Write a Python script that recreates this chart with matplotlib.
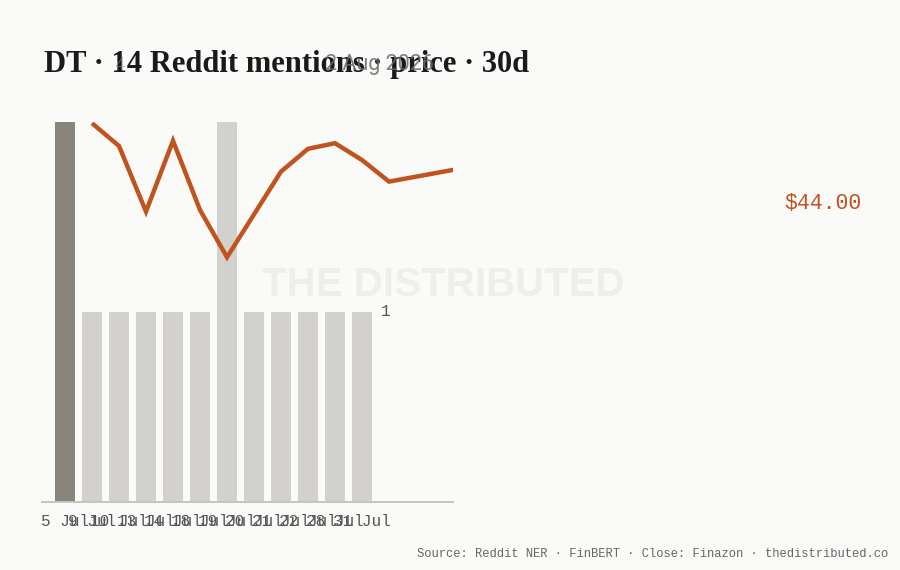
import matplotlib
matplotlib.use("Agg")
import matplotlib.pyplot as plt
import matplotlib.transforms as mtransforms

# mentions per day (bars)
days = ["5 Jul", "9 Jul", "10 Jul", "13 Jul", "14 Jul", "18 Jul",
        "19 Jul", "20 Jul", "21 Jul", "22 Jul", "28 Jul", "31 Jul"]
mentions = [2, 1, 1, 1, 1, 1, 2, 1, 1, 1, 1, 1]
highlight = [True] + [False] * 11

# closing price (line), positions on the same day axis
price_pos = [1, 2, 3, 4, 5, 6, 7, 8, 9, 10, 11, 12, 15]
price_close = [46.02, 45.45, 43.81, 45.58, 43.85, 42.67, 43.74,
               44.81, 45.38, 45.52, 45.10, 44.56, 44.93]
price_label = 44.00

BG = "#fafaf8"
DARK_BAR = "#8a857c"
LIGHT_BAR = "#d3d1cd"
ORANGE = "#c0531e"
MONO = "Liberation Mono"

fig = plt.figure(figsize=(9, 5.7), dpi=100, facecolor=BG)
ax = fig.add_axes([42 / 900, 68 / 570, 411 / 900, 380 / 570])
ax.set_facecolor("none")

xs = list(range(len(days)))
colors = [DARK_BAR if h else LIGHT_BAR for h in highlight]
ax.bar(xs, mentions, width=0.74, color=colors, zorder=2)

ax.set_xlim(-0.852, 14.37)
ax.set_ylim(0, max(mentions))
ax.set_xticks(xs)
ax.set_xticklabels(days, fontfamily=MONO, fontsize=11.5, color="#555555")
ax.tick_params(axis="x", length=0, pad=9)
ax.set_yticks([])
for side in ["top", "right", "left"]:
    ax.spines[side].set_visible(False)
ax.spines["bottom"].set_color("#c4c4c4")
ax.spines["bottom"].set_linewidth(1.4)

ax.text(len(days) - 1 + 0.7, 1, "1", fontfamily=MONO, fontsize=11.5,
        color="#555555", ha="left", va="center")

# watermark
fig.text(443 / 900, 1 - 285 / 570, "THE DISTRIBUTED", fontfamily="Liberation Sans",
         fontweight="bold", fontsize=29, color="#ececea", alpha=0.8,
         ha="center", va="center", zorder=0)

ax2 = ax.twinx()
ax2.set_ylim(36.55, 46.05)
ax2.plot(price_pos, price_close, color=ORANGE, linewidth=3.2,
         solid_joinstyle="miter", solid_capstyle="butt", zorder=3)
ax2.set_yticks([])
for side in ["top", "right", "left", "bottom"]:
    ax2.spines[side].set_visible(False)

trans = mtransforms.blended_transform_factory(fig.transFigure, ax2.transData)
ax2.text(862 / 900, price_label, f"${price_label:.2f}", transform=trans,
         fontfamily=MONO, fontsize=15.5, color=ORANGE, ha="right", va="center")

# title with stray time-axis labels drawn over it
fig.text(44 / 900, 1 - 72 / 570, "DT · 14 Reddit mentions · price · 30d",
         fontfamily="Liberation Serif", fontweight="bold", fontsize=22,
         color="#1a1a1a", ha="left", va="baseline")
fig.text(120 / 900, 1 - 70 / 570, "4", fontfamily="Roboto", fontsize=14,
         color="#9a9a9a", ha="center", va="baseline", fontweight="light")
fig.text(325 / 900, 1 - 70 / 570, "2 Aug 2026", fontfamily="Roboto", fontsize=15.5,
         color="#6a6a6a", ha="left", va="baseline", alpha=0.85)

fig.text(888 / 900, 1 - 554 / 570,
         "Source: Reddit NER · FinBERT · Close: Finazon · thedistributed.co",
         fontfamily=MONO, fontsize=8.7, color="#666666", ha="right", va="center")

fig.savefig("out.png", dpi=100, facecolor=BG)
